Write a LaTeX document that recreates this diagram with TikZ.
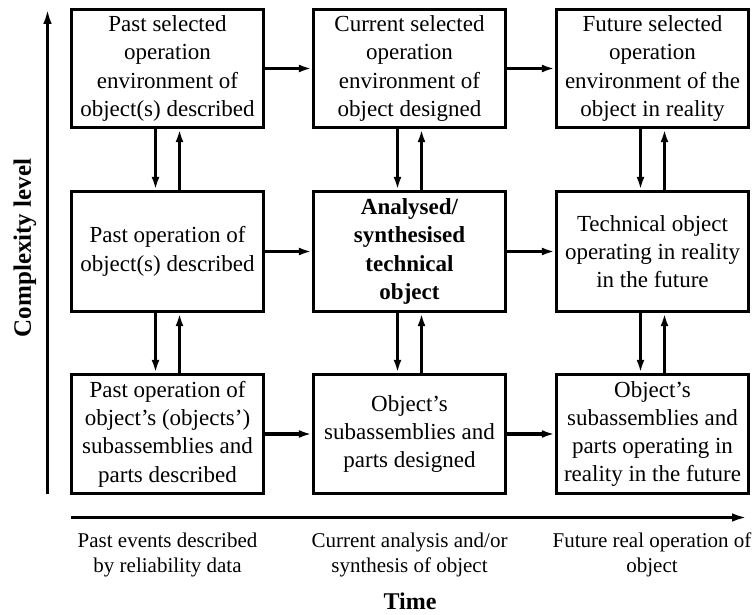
\documentclass[tikz,border=0pt]{standalone}
\usepackage{fontspec}
\setmainfont{Liberation Serif}
\usetikzlibrary{arrows.meta}
\begin{document}
\begin{tikzpicture}[x=1pt,y=-1pt,
  boxnode/.style={draw,line width=3.4pt,minimum width=192pt,align=center,inner sep=0pt,
    font=\fontsize{23}{28.3}\selectfont},
  conn/.style={line width=3.3pt,-{Latex[length=13pt,width=8pt]}},
  axis/.style={line width=3.8pt,-{Latex[length=16pt,width=8.5pt]}},
  axlabel/.style={align=center,font=\fontsize{21}{25.5}\selectfont}]
\useasboundingbox (0,0) rectangle (756,615);
% row 1
\node[boxnode,minimum height=118pt] (a1) at (167.5,68.5) {Past selected\\operation\\environment of\\object(s) described};
\node[boxnode,minimum height=118pt] (a2) at (409.5,68.5) {Current selected\\operation\\environment of\\object designed};
\node[boxnode,minimum height=118pt] (a3) at (652.5,68.5) {Future selected\\operation\\environment of the\\object in reality};
% row 2
\node[boxnode,minimum height=120pt] (b1) at (167.5,251.5) {Past operation of\\object(s) described};
\node[boxnode,minimum height=120pt] (b2) at (409.5,251.5) {\bfseries Analysed/\\\bfseries synthesised\\\bfseries technical\\\bfseries object};
\node[boxnode,minimum height=120pt] (b3) at (652.5,251.5) {Technical object\\operating in reality\\in the future};
% row 3
\node[boxnode,minimum height=119pt] (c1) at (167.5,434) {Past operation of\\object’s (objects’)\\subassemblies and\\parts described};
\node[boxnode,minimum height=119pt] (c2) at (409.5,434) {Object’s\\subassemblies and\\parts designed};
\node[boxnode,minimum height=119pt] (c3) at (652.5,434) {Object’s\\subassemblies and\\parts operating in\\reality in the future};
% horizontal arrows
\draw[conn] (a1.east) -- (a2.west);
\draw[conn] (a2.east) -- (a3.west);
\draw[conn] (b1.east) -- (b2.west);
\draw[conn] (b2.east) -- (b3.west);
\draw[conn] (c1.east) -- (c2.west);
\draw[conn] (c2.east) -- (c3.west);
% vertical arrows
\foreach \u/\l in {a1/b1,a2/b2,a3/b3,b1/c1,b2/c2,b3/c3}{
  \draw[conn] ([xshift=-12pt]\u.south) -- ([xshift=-12pt]\l.north);
  \draw[conn] ([xshift=12pt]\l.north) -- ([xshift=12pt]\u.south);
}
% axes
\coordinate (vb) at (47.5,494);
\coordinate (vt) at (47.5,8);
\coordinate (hl) at (70.5,517.5);
\coordinate (hr) at (748,517.5);
\draw[axis] (vb) -- (vt);
\draw[axis] (hl) -- (hr);
% axis labels
\node[rotate=90,font=\fontsize{25}{30}\selectfont\bfseries] (cl) at (25,248) {Complexity level};
\node[axlabel] (t1) at (167.5,555) {Past events described\\by reliability data};
\node[axlabel] (t2) at (409.5,555) {Current analysis and/or\\synthesis of object};
\node[axlabel] (t3) at (652,555) {Future real operation of\\object};
\node[font=\fontsize{24}{29}\selectfont\bfseries] (tm) at (410,601) {Time};
\end{tikzpicture}
\end{document}
